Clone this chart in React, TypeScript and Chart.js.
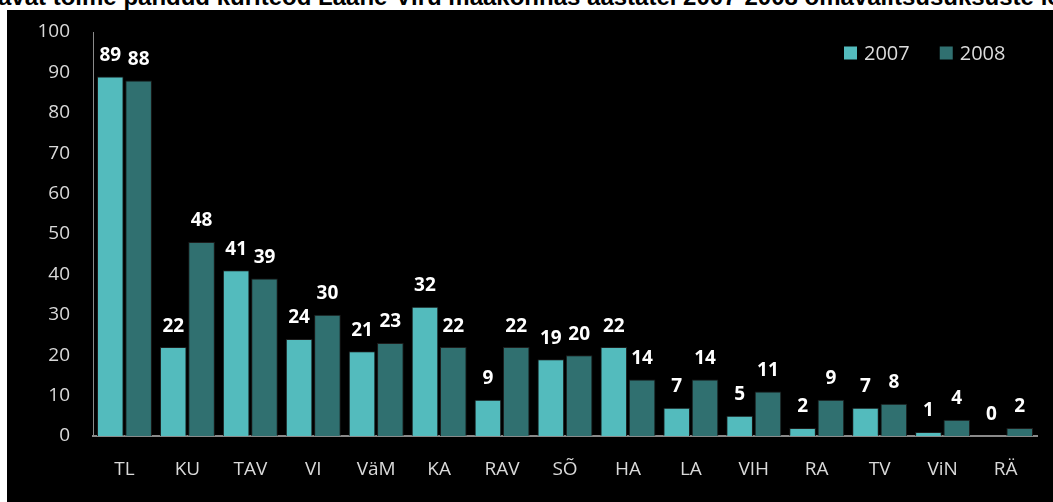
import React, { useEffect, useRef } from "react";
import { Chart, registerables } from "chart.js";

Chart.register(...registerables);

const titleText =
  "avat toime pandud kuriteod Lääne-Viru maakonnas aastatel 2007-2008 omavalitsusüksuste lõikes";
const categories = ["TL", "KU", "TAV", "VI", "VäM", "KA", "RAV", "SÕ", "HA", "LA", "VIH", "RA", "TV", "ViN", "RÄ"];
const seriesLabels = ["2007", "2008"];
const values2007 = [89, 22, 41, 24, 21, 32, 9, 19, 22, 7, 5, 2, 7, 1, 0];
const values2008 = [88, 48, 39, 30, 23, 22, 22, 20, 14, 14, 11, 9, 8, 4, 2];
const yMin = 0;
const yMax = 100;
const yStep = 10;

const colors = ["#53bbbd", "#307070"];
const FONT = "'Open Sans', Lato, sans-serif";

const valueLabelPlugin = {
  id: "valueLabels",
  afterDatasetsDraw(chart: any) {
    const ctx = chart.ctx;
    ctx.save();
    ctx.font = `bold 19px ${FONT}`;
    ctx.fillStyle = "#ffffff";
    ctx.textAlign = "center";
    ctx.textBaseline = "middle";
    chart.data.datasets.forEach((ds: any, i: number) => {
      const meta = chart.getDatasetMeta(i);
      meta.data.forEach((bar: any, j: number) => {
        ctx.fillText(String(ds.data[j]), bar.x, bar.y - 21);
      });
    });
    ctx.restore();
  },
};

const legendPlugin = {
  id: "customLegend",
  afterDraw(chart: any) {
    const ctx = chart.ctx;
    ctx.save();
    ctx.font = `20px ${FONT}`;
    ctx.textBaseline = "middle";
    ctx.textAlign = "left";
    let x = 837;
    const y = 43;
    chart.data.datasets.forEach((ds: any) => {
      ctx.fillStyle = ds.backgroundColor;
      ctx.fillRect(x, y - 6.5, 13, 13);
      ctx.fillStyle = "#dcdcdc";
      ctx.fillText(ds.label, x + 20, y + 1);
      x = x + 20 + ctx.measureText(ds.label).width + 30;
    });
    ctx.restore();
  },
};

export default function App() {
  const ref = useRef<HTMLCanvasElement | null>(null);

  useEffect(() => {
    if (!ref.current) return;
    const chart = new Chart(ref.current, {
      type: "bar",
      data: {
        labels: categories,
        datasets: [
          {
            label: seriesLabels[0],
            data: values2007,
            backgroundColor: colors[0],
            borderColor: "#1c1c1c",
            borderWidth: 1,
            categoryPercentage: 0.9,
            barPercentage: 0.94,
          },
          {
            label: seriesLabels[1],
            data: values2008,
            backgroundColor: colors[1],
            borderColor: "#1c1c1c",
            borderWidth: 1,
            categoryPercentage: 0.9,
            barPercentage: 0.94,
          },
        ],
      },
      options: {
        responsive: false,
        animation: false,
        devicePixelRatio: 1,
        layout: { padding: { left: 0, right: 16, top: 22, bottom: 0 } },
        plugins: {
          legend: { display: false },
          tooltip: { enabled: false },
          title: { display: false },
        },
        scales: {
          x: {
            grid: { display: false, drawTicks: true, tickLength: 22, tickColor: "rgba(0,0,0,0)" },
            border: { display: true, color: "#8a8a8a", width: 2 },
            ticks: {
              color: "#d9d9d9",
              font: { family: FONT, size: 19 },
              padding: 0,
              maxRotation: 0,
            },
            afterFit(scale: any) {
              scale.height = 66;
            },
          },
          y: {
            min: yMin,
            max: yMax,
            grid: { display: false, drawTicks: true, tickLength: 23, tickColor: "rgba(0,0,0,0)" },
            border: { display: true, color: "#8a8a8a", width: 1 },
            ticks: {
              stepSize: yStep,
              color: "#d9d9d9",
              font: { family: FONT, size: 19 },
              padding: 0,
            },
            afterFit(scale: any) {
              scale.width = 86;
            },
          },
        },
      },
      plugins: [valueLabelPlugin, legendPlugin],
    });
    return () => chart.destroy();
  }, []);

  return (
    <div
      style={{
        position: "fixed",
        left: 0,
        top: 0,
        width: 1053,
        height: 502,
        overflow: "hidden",
        background: "#ffffff",
      }}
    >
      <div
        style={{
          position: "absolute",
          left: -2,
          top: -15,
          whiteSpace: "nowrap",
          font: "bold 24px 'Liberation Sans', Arial, sans-serif",
          lineHeight: "24px",
          color: "#000",
        }}
      >
        {titleText}
      </div>
      <div
        style={{
          position: "absolute",
          left: 7,
          top: 10,
          width: 1046,
          height: 492,
          background: "#000000",
        }}
      >
        <canvas ref={ref} width={1046} height={492} style={{ display: "block" }} />
      </div>
    </div>
  );
}
